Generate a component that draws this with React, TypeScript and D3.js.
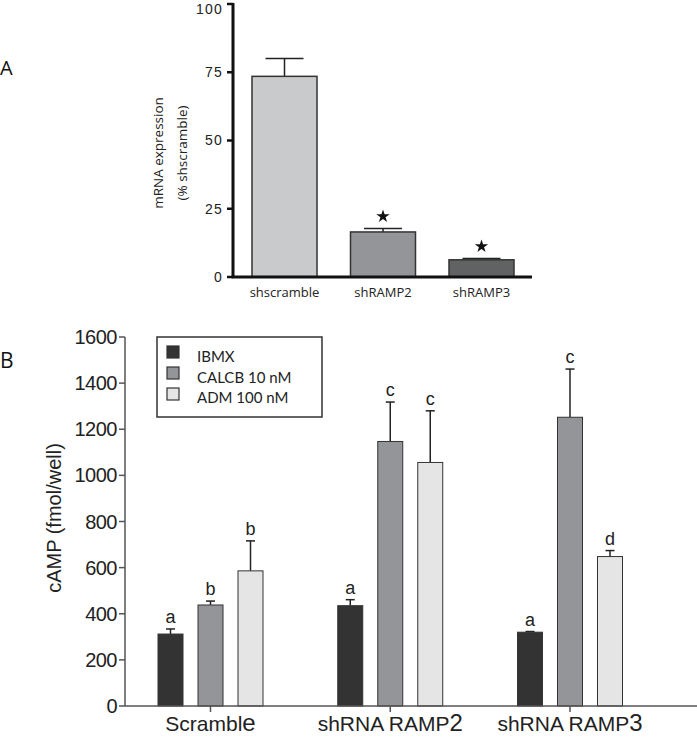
import React from "react";
import * as d3 from "d3";

// Panel A data
const aCategories = ["shscramble", "shRAMP2", "shRAMP3"];
const aValues = [73.5, 16.5, 6.3];
const aErrors = [80, 17.8, 6.8];
const aStars = [false, true, true];
const aTicks = [0, 25, 50, 75, 100];
const aColors = ["#c9cacc", "#939598", "#616264"];

// Panel B data
const bGroups = ["Scramble", "shRNA RAMP2", "shRNA RAMP3"];
const bSeries = ["IBMX", "CALCB 10 nM", "ADM 100 nM"];
const bIBMX = [312, 435, 320];
const bCALCB = [438, 1147, 1252];
const bADM = [586, 1056, 648];
const bIBMXErr = [334, 461, 323];
const bCALCBErr = [455, 1318, 1461];
const bADMErr = [716, 1280, 674];
const bLetters = [["a", "b", "b"], ["a", "c", "c"], ["a", "c", "d"]];
const bTicks = [0, 200, 400, 600, 800, 1000, 1200, 1400, 1600];
const bColors = ["#333333", "#949598", "#e5e5e5"];

export default function App() {
  // Panel A scales
  const ax = d3.scaleBand<string>().domain(aCategories).range([252, 514]).paddingInner(0.34).paddingOuter(0);
  const ay = d3.scaleLinear().domain([0, 100]).range([277, 4]);
  const star = d3.symbol().type(d3.symbolStar).size(55)();

  // Panel B scales
  const bx = d3.scalePoint<string>().domain(bGroups).range([210.5, 570]);
  const bInner = d3.scaleBand<string>().domain(bSeries).range([-52.5, 52.5]).paddingInner(0.375).paddingOuter(0);
  const by = d3.scaleLinear().domain([0, 1600]).range([706, 337]);
  const bVals = [bIBMX, bCALCB, bADM];
  const bErrs = [bIBMXErr, bCALCBErr, bADMErr];

  const aFont = "'Open Sans', 'Noto Sans', sans-serif";
  const bFont = "'Liberation Sans', Arial, sans-serif";
  const legFont = "Lato, 'Open Sans', sans-serif";

  return (
    <svg width={697} height={742} style={{ position: "absolute", left: 0, top: 0, background: "#fff" }}>
      <rect x={0} y={0} width={697} height={742} fill="#fff" />
      {/* Panel A */}
      <text x={0} y={75} fontFamily={aFont} fontSize={20} fill="#111">A</text>
      <g>
        {aCategories.map((c, i) => {
          const x0 = ax(c)!;
          const w = ax.bandwidth();
          const cx = x0 + w / 2;
          return (
            <g key={c}>
              <line x1={cx} x2={cx} y1={ay(aValues[i])} y2={ay(aErrors[i])} stroke="#222" strokeWidth={1.5} />
              <line x1={cx - 19} x2={cx + 19} y1={ay(aErrors[i])} y2={ay(aErrors[i])} stroke="#222" strokeWidth={1.5} />
              <rect x={x0} y={ay(aValues[i])} width={w} height={ay(0) - ay(aValues[i])} fill={aColors[i]} stroke="#333" strokeWidth={1.5} />
              {aStars[i] && <path d={star!} transform={`translate(${cx},${ay(aErrors[i]) - 12})`} fill="#111" />}
              <text x={cx} y={297} textAnchor="middle" fontFamily={aFont} fontSize={13} fill="#222">{c}</text>
            </g>
          );
        })}
        <line x1={233} x2={233} y1={ay(100) - 1} y2={ay(0)} stroke="#111" strokeWidth={3} />
        <line x1={231.5} x2={532} y1={ay(0)} y2={ay(0)} stroke="#111" strokeWidth={3} />
        {aTicks.map((t) => (
          <g key={t}>
            <line x1={227} x2={233} y1={ay(t)} y2={ay(t)} stroke="#111" strokeWidth={2.5} />
            <text x={223} y={Math.max(ay(t), 9)} dy="0.35em" textAnchor="end" fontFamily={bFont} fontSize={14} letterSpacing={1.2} fill="#222">{t}</text>
          </g>
        ))}
        <text transform={`translate(163,153) rotate(-90)`} textAnchor="middle" fontFamily={aFont} fontSize={13.5} fill="#222">mRNA expression</text>
        <text transform={`translate(187,153) rotate(-90)`} textAnchor="middle" fontFamily={aFont} fontSize={13.5} fill="#222">(% shscramble)</text>
      </g>

      {/* Panel B */}
      <text x={0} y={368} fontFamily={aFont} fontSize={21} fill="#111">B</text>
      <g>
        {bGroups.map((g, gi) => (
          <g key={g}>
            {bSeries.map((s, si) => {
              const x0 = bx(g)! + bInner(s)!;
              const w = bInner.bandwidth();
              const cx = x0 + w / 2;
              const v = bVals[si][gi];
              const e = bErrs[si][gi];
              return (
                <g key={s}>
                  <line x1={cx} x2={cx} y1={by(v)} y2={by(e)} stroke="#222" strokeWidth={1.5} />
                  <line x1={cx - 4.5} x2={cx + 4.5} y1={by(e)} y2={by(e)} stroke="#222" strokeWidth={1.5} />
                  <rect x={x0} y={by(v)} width={w} height={by(0) - by(v)} fill={bColors[si]} stroke="#333" strokeWidth={1} />
                  <text x={cx} y={by(e) - 6} textAnchor="middle" fontFamily={bFont} fontSize={18} fill="#222">{bLetters[gi][si]}</text>
                </g>
              );
            })}
            <line x1={bx(g)!} x2={bx(g)!} y1={by(0)} y2={by(0) + 6} stroke="#555" strokeWidth={1.5} />
            <text x={bx(g)!} y={731} textAnchor="middle" fontFamily={bFont} fontSize={21} fill="#222">
              {g.slice(0, -1)}
              <tspan fontSize={24}>{g.slice(-1)}</tspan>
            </text>
          </g>
        ))}
        <line x1={125} x2={125} y1={by(1600)} y2={by(0)} stroke="#555" strokeWidth={1.5} />
        <line x1={125} x2={697} y1={by(0)} y2={by(0)} stroke="#555" strokeWidth={1.5} />
        {bTicks.map((t) => (
          <g key={t}>
            <line x1={119} x2={125} y1={by(t)} y2={by(t)} stroke="#555" strokeWidth={1.5} />
            <text x={117} y={by(t)} dy="0.35em" textAnchor="end" fontFamily={bFont} fontSize={20} letterSpacing={-0.5} fill="#222">{t}</text>
          </g>
        ))}
        <text transform={`translate(61,518) rotate(-90)`} textAnchor="middle" fontFamily={bFont} fontSize={20} fill="#222">cAMP (fmol/well)</text>

        {/* Legend */}
        <rect x={157} y={337} width={165} height={80} fill="#fff" stroke="#333" strokeWidth={1.5} />
        {bSeries.map((s, si) => (
          <g key={s}>
            <rect x={167} y={346 + si * 21} width={12} height={12} fill={bColors[si]} stroke="#333" strokeWidth={1.2} />
            <text x={197} y={362 + si * 20.5} fontFamily={legFont} fontSize={15} fill="#222">{s}</text>
          </g>
        ))}
      </g>
    </svg>
  );
}
